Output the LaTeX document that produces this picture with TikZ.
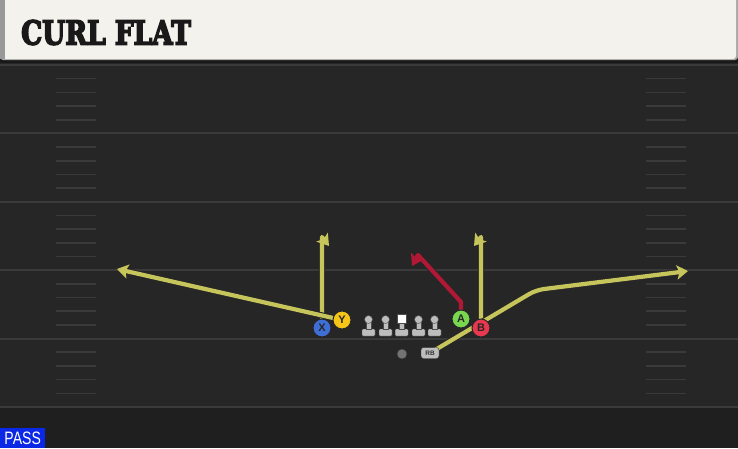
\documentclass[tikz,border=0pt]{standalone}
\usepackage{fontspec}
\newfontfamily\titlefont[BoldFeatures={FakeBold=5}]{DejaVu Serif}
\newfontfamily\labelfont{Liberation Sans}
\usetikzlibrary{arrows.meta}
\definecolor{fieldbg}{HTML}{262626}
\definecolor{fieldlow}{HTML}{1F1F1F}
\definecolor{yardline}{HTML}{3A3A3A}
\definecolor{titlebg}{HTML}{F4F2EC}
\definecolor{routeyel}{HTML}{C6C55C}
\definecolor{routered}{HTML}{B01836}
\definecolor{xblue}{HTML}{3E6FD6}
\definecolor{yyel}{HTML}{F5C518}
\definecolor{agreen}{HTML}{79D64F}
\definecolor{bred}{HTML}{E8384F}
\definecolor{olgray}{HTML}{BDBDBD}
\definecolor{passblue}{HTML}{0A28E6}
\pgfdeclarelayer{field}
\pgfdeclarelayer{routes}
\pgfsetlayers{field,routes,main}
\def\OL#1#2{\fill[olgray,draw=black!70,rounded corners=1pt] (#2-6.5,329) rectangle (#2+6.5,336);
  \fill[olgray,draw=black!70,line width=0.4pt] (#2-2.2,321) rectangle (#2+2.2,329.5);
  \node[olhead] (#1) at (#2,319.5) {};}

\begin{document}
\begin{tikzpicture}[x=1pt,y=-1pt,
  player/.style={circle,draw=black!85,line width=1pt,minimum size=18pt,inner sep=0pt,
    font=\labelfont\bfseries\fontsize{11}{11}\selectfont,text=black!85},
  olhead/.style={circle,fill=olgray,draw=black!70,line width=0.4pt,minimum size=8pt,inner sep=0pt},
  route/.style={line width=4.2pt,draw=routeyel,line join=round,
    preaction={draw=black!85,line width=6.2pt}},
  tip/.style={-{Stealth[length=7pt 1,width=8pt 1.5,inset=2.5pt]}}]
  \useasboundingbox (0,0) rectangle (738,448);
  \begin{pgfonlayer}{field}
  \fill[fieldbg] (0,0) rectangle (738,448);
  \fill[fieldlow] (0,407) rectangle (738,448);
  \foreach \i in {0,...,5} \draw[yardline,line width=2pt] (0,65+68.4*\i) -- (738,65+68.4*\i);
  \foreach \i in {0,...,4} \foreach \k in {1,...,4} {
    \draw[yardline,line width=1.6pt] (56,65+68.4*\i+13.68*\k) -- (96,65+68.4*\i+13.68*\k);
    \draw[yardline,line width=1.6pt] (646,65+68.4*\i+13.68*\k) -- (686,65+68.4*\i+13.68*\k);}
  % header
  \fill[black!90] (0,56) rectangle (738,63);
  \fill[black!35,rounded corners=3pt] (0,-5) rectangle (738,60);
  \fill[titlebg,rounded corners=3pt] (0,-5) rectangle (736,59);
  \fill[black!40] (0,0) rectangle (5,59);
  \end{pgfonlayer}
  \node[anchor=west,inner sep=0pt,text=black!90] (title) at (21,32.5)
    {\scalebox{0.8}[1]{\titlefont\bfseries\fontsize{33}{33}\selectfont CURL FLAT}};
  \node[anchor=south west,fill=passblue,minimum width=45pt,minimum height=20pt,inner sep=0pt,
    text=white] (pass) at (0,448)
    {\scalebox{0.78}[1]{\labelfont\fontsize{18}{18}\selectfont PASS}};
  % players
  \node[player,fill=xblue] (X) at (322,328) {X};
  \node[player,fill=yyel] (Y) at (342,320) {Y};
  \node[player,fill=agreen] (A) at (461,319) {A};
  \node[player,fill=bred] (B) at (481,328) {B};
  \OL{LT}{368.5} \OL{LG}{385.5} \OL{RG}{418.5} \OL{RT}{434.5}
  \fill[olgray,draw=black!70,rounded corners=1pt] (395.2,329) rectangle (408.2,336);
  \fill[olgray,draw=black!70,line width=0.4pt] (399.5,321) rectangle (403.9,329.5);
  \node[fill=white,draw=black!70,line width=0.4pt,minimum size=9.5pt,inner sep=0pt] (C) at (401.7,318.5) {};
  \node[circle,fill=black!55,draw=black!80,minimum size=10pt,inner sep=0pt] (QB) at (402,354) {};
  \node[fill=olgray,draw=black!80,rounded corners=2.5pt,minimum width=18pt,minimum height=11pt,
    inner sep=0pt,font=\labelfont\bfseries\fontsize{6.5}{6.5}\selectfont,text=black!80] (RB) at (430,353) {RB};
  \coordinate (xtop) at (322,237);
  \coordinate (xend) at (329,246);
  \coordinate (yend) at (117,269);
  \coordinate (btop) at (481,237);
  \coordinate (bend) at (474,246);
  \coordinate (rbbreak) at (536,290);
  \coordinate (rbend) at (688,271);
  \coordinate (aup) at (461,302);
  \coordinate (atop) at (418,255);
  \coordinate (aend) at (412,266);
  \begin{pgfonlayer}{routes}
  \draw[route,tip] (X.center) -- (xtop) -- (xend);
  \draw[route,tip] (Y.center) -- (yend);
  \draw[route,tip] (B.center) -- (btop) -- (bend);
  \draw[route,tip,rounded corners=8pt] (RB.center) -- (rbbreak) -- (rbend);
  \draw[route,tip,draw=routered] (A.center) -- (aup) -- (atop) -- (aend);
  \end{pgfonlayer}
\end{tikzpicture}
\end{document}
